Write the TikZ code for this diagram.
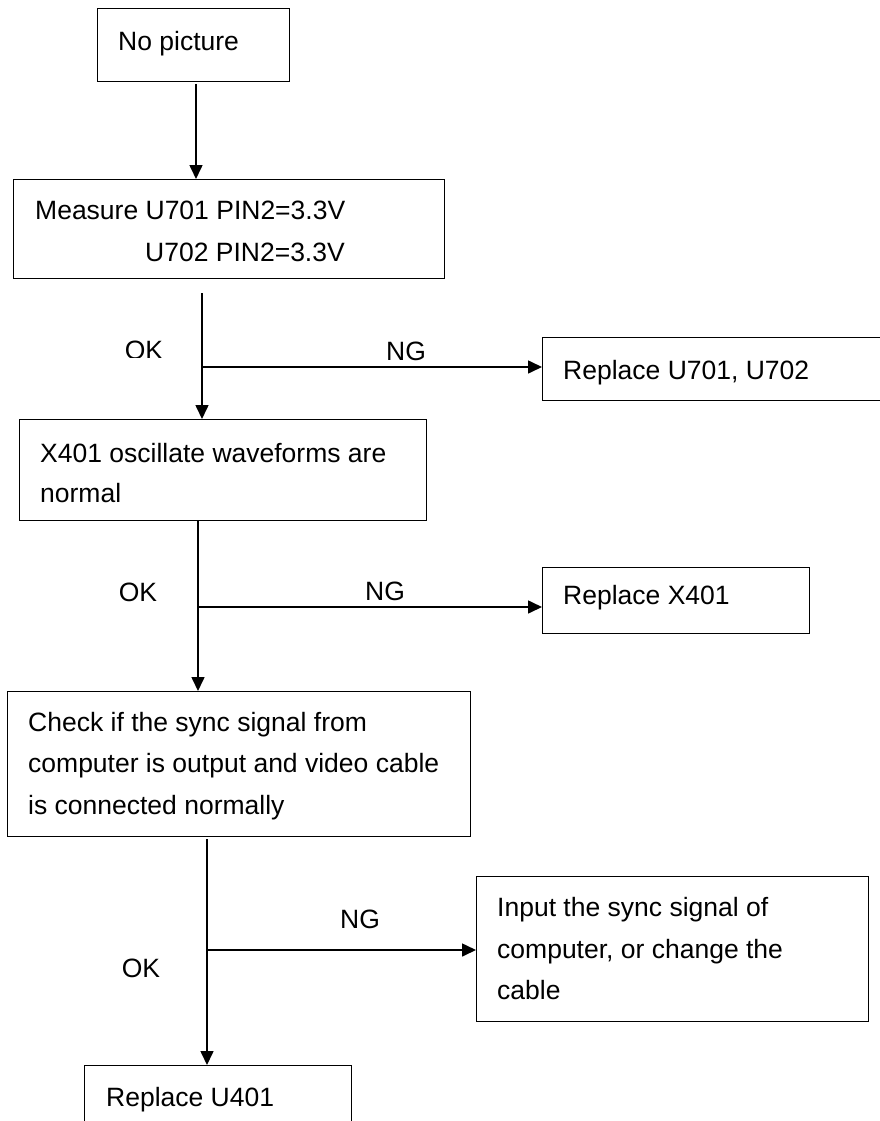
\documentclass[tikz,border=0pt]{standalone}
\usepackage{fontspec}
\setmainfont{Liberation Sans}
\usetikzlibrary{arrows.meta}
\begin{document}
\begin{tikzpicture}[x=1pt,y=-1pt,
  box/.style={draw, line width=1.3pt, rectangle, inner sep=0pt, anchor=north west},
  txt/.style={anchor=base west, inner sep=0pt, font=\fontsize{26.5}{41.5}\selectfont},
  lbl/.style={anchor=center, inner sep=0pt, font=\fontsize{26.5}{41.5}\selectfont},
  arr/.style={line width=1.6pt, -{Triangle[length=14pt,width=13pt]}},
  ln/.style={line width=1.6pt}]
\useasboundingbox (0,0) rectangle (880,1121);
\clip (0,0) rectangle (880,1121);

% boxes
\node[box, minimum width=192pt, minimum height=73pt] (b1) at (97,8) {};
\node[txt] (t1) at (118,51) {No picture};

\node[box, minimum width=431pt, minimum height=99pt] (b2) at (13,179) {};
\node[txt] (t2a) at (35,219) {Measure U701 PIN2=3.3V};
\node[txt] (t2b) at (145,261) {U702 PIN2=3.3V};

\node[box, minimum width=360pt, minimum height=63pt] (bU) at (542,337) {};
\node[txt] (tU) at (563,379) {Replace U701, U702};

\node[box, minimum width=407pt, minimum height=101pt] (b3) at (19,419) {};
\node[txt] (t3a) at (40,462) {X401 oscillate waveforms are};
\node[txt] (t3b) at (40,502) {normal};

\node[box, minimum width=267pt, minimum height=66pt] (bX) at (542,567) {};
\node[txt] (tX) at (563,604) {Replace X401};

\node[box, minimum width=463pt, minimum height=145pt] (b4) at (7,691) {};
\node[txt] (t4a) at (28,731) {Check if the sync signal from};
\node[txt] (t4b) at (28,772) {computer is output and video cable};
\node[txt] (t4c) at (28,814) {is connected normally};

\node[box, minimum width=392pt, minimum height=145pt] (b6) at (476,876) {};
\node[txt] (t6a) at (497,916) {Input the sync signal of};
\node[txt] (t6b) at (497,958) {computer, or change the};
\node[txt] (t6c) at (497,999) {cable};

\node[box, minimum width=267pt, minimum height=100pt] (b5) at (84,1065) {};
\node[txt] (t5) at (106,1106) {Replace U401};

% connectors
\coordinate (s1) at (196,84);
\draw[arr] (s1) -- (s1 |- b2.north);

\coordinate (s2) at (202,293);
\coordinate (j1) at (202,367);
\draw[arr] (s2) -- (s2 |- b3.north);
\draw[arr] (j1) -- (j1 -| bU.west);

\coordinate (s3) at (198,520);
\coordinate (j2) at (198,607);
\draw[arr] (s3 |- b3.south) -- (s3 |- b4.north);
\draw[arr] (j2) -- (j2 -| bX.west);

\coordinate (s4) at (207,839);
\coordinate (j3) at (207,950);
\draw[arr] (s4) -- (s4 |- b5.north);
\draw[arr] (j3) -- (j3 -| b6.west);

% labels
\begin{scope}
\clip (100,320) rectangle (190,357);
\node[lbl] (ok1) at (144,350) {OK};
\end{scope}
\node[lbl] (ng1) at (406,351) {NG};
\node[lbl] (ok2) at (138,592) {OK};
\node[lbl] (ng2) at (385,591) {NG};
\node[lbl] (ng3) at (360,919) {NG};
\node[lbl] (ok3) at (141,968) {OK};
\end{tikzpicture}
\end{document}
